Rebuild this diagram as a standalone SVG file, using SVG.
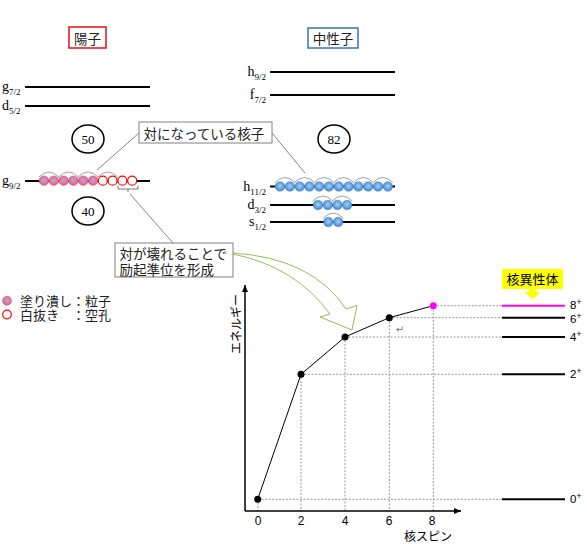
<svg xmlns="http://www.w3.org/2000/svg" width="587" height="544" viewBox="0 0 587 544">
<style>
.lv{stroke:#000;stroke-width:1.8}
.serif{font-family:"Liberation Serif","Noto Sans CJK JP",serif;fill:#000}
.jp{font-family:"Liberation Serif","Noto Sans CJK JP",sans-serif;fill:#222}
.gt{font-family:"Noto Sans CJK JP","DejaVu Sans",sans-serif;fill:#000}
.ls{font-family:"Liberation Sans",Arial,sans-serif;fill:#000}
.pf{fill:url(#pg);stroke:#e8506e;stroke-width:0.5}
.ph{fill:#fff;stroke:#f00;stroke-width:1.2}
.nf{fill:url(#ng);stroke:#4a8fd6;stroke-width:0.5}
.arc{fill:none;stroke:#888;stroke-width:0.8}
.lead{stroke:#666;stroke-width:0.8;fill:none}
.box{fill:#fff;stroke:#808080;stroke-width:1}
.dot{stroke:#999;stroke-width:1;stroke-dasharray:2,1.5;fill:none}
.pt{fill:#000}
.rl{stroke:#000;stroke-width:2}
</style>
<defs>
<radialGradient id="pg" cx="50%" cy="45%" r="55%"><stop offset="0" stop-color="#a8a8e0"/><stop offset="0.35" stop-color="#c492c4"/><stop offset="1" stop-color="#f2566f"/></radialGradient>
<radialGradient id="ng" cx="50%" cy="45%" r="55%"><stop offset="0" stop-color="#a8d0f4"/><stop offset="1" stop-color="#3c84d0"/></radialGradient>
<marker id="ah" markerWidth="8" markerHeight="8" refX="7" refY="4" orient="auto" markerUnits="userSpaceOnUse"><path d="M0,1 L7,4 L0,7 Z" fill="#000"/></marker>
</defs>

<g id="proton">
<rect x="69" y="27" width="37" height="21" fill="#fff" stroke="#e01010" stroke-width="1.5"/>
<text x="87.5" y="44" font-size="13.5" text-anchor="middle" class="jp">陽子</text>
<line class="lv" x1="25" y1="87" x2="150" y2="87"/>
<line class="lv" x1="25" y1="106" x2="150" y2="106"/>
<line class="lv" x1="25" y1="181" x2="150" y2="181"/>
<text x="2" y="91" font-size="14" class="serif">g<tspan dy="4" font-size="9">7/2</tspan></text>
<text x="2" y="110" font-size="14" class="serif">d<tspan dy="4" font-size="9">5/2</tspan></text>
<text x="2" y="185" font-size="14" class="serif">g<tspan dy="4" font-size="9">9/2</tspan></text>
<ellipse cx="88" cy="139" rx="16" ry="14" fill="#fff" stroke="#000" stroke-width="1.5"/>
<text x="88" y="143.5" font-size="13" text-anchor="middle" class="serif">50</text>
<ellipse cx="88" cy="211" rx="16" ry="14" fill="#fff" stroke="#000" stroke-width="1.5"/>
<text x="88" y="215.5" font-size="13" text-anchor="middle" class="serif">40</text>
<path class="arc" d="M39,177 Q48.9,167 58.8,177 M58.6,177 Q68.5,167 78.4,177 M78.2,177 Q88.1,167 98,177 M97.8,177 Q107.7,167 117.6,177"/>
<circle class="pf" cx="44" cy="180.7" r="4.8"/>
<circle class="pf" cx="53.8" cy="180.7" r="4.8"/>
<circle class="pf" cx="63.6" cy="180.7" r="4.8"/>
<circle class="pf" cx="73.4" cy="180.7" r="4.8"/>
<circle class="pf" cx="83.2" cy="180.7" r="4.8"/>
<circle class="pf" cx="93" cy="180.7" r="4.8"/>
<circle class="ph" cx="102.8" cy="180.7" r="4.5"/>
<circle class="ph" cx="112.6" cy="180.7" r="4.5"/>
<circle class="ph" cx="122.4" cy="180.7" r="4.5"/>
<circle class="ph" cx="132.2" cy="180.7" r="4.5"/>
<path d="M118,186 V189 H138 V186 M128,189 V192" fill="none" stroke="#555" stroke-width="0.8"/>
</g>

<g id="neutron">
<rect x="308" y="28" width="50" height="20" fill="#fff" stroke="#2e78c0" stroke-width="1.5"/>
<text x="333" y="44" font-size="13.5" text-anchor="middle" class="jp">中性子</text>
<line class="lv" x1="270" y1="72" x2="395" y2="72"/>
<line class="lv" x1="270" y1="95" x2="395" y2="95"/>
<line class="lv" x1="270" y1="186.5" x2="395" y2="186.5"/>
<line class="lv" x1="270" y1="205" x2="395" y2="205"/>
<line class="lv" x1="270" y1="222" x2="395" y2="222"/>
<text x="266" y="76" font-size="14" text-anchor="end" class="serif">h<tspan dy="4" font-size="9">9/2</tspan></text>
<text x="266" y="99" font-size="14" text-anchor="end" class="serif">f<tspan dy="4" font-size="9">7/2</tspan></text>
<text x="266" y="190.5" font-size="14" text-anchor="end" class="serif">h<tspan dy="4" font-size="9">11/2</tspan></text>
<text x="266" y="209" font-size="14" text-anchor="end" class="serif">d<tspan dy="4" font-size="9">3/2</tspan></text>
<text x="266" y="226" font-size="14" text-anchor="end" class="serif">s<tspan dy="4" font-size="9">1/2</tspan></text>
<ellipse cx="334" cy="139" rx="16" ry="14" fill="#fff" stroke="#000" stroke-width="1.5"/>
<text x="334" y="143.5" font-size="13" text-anchor="middle" class="serif">82</text>
<path class="arc" d="M274.9,182.5 Q284.9,172.5 294.9,182.5 M294.5,182.5 Q304.5,172.5 314.5,182.5 M314.1,182.5 Q324.1,172.5 334.1,182.5 M333.7,182.5 Q343.7,172.5 353.7,182.5 M353.3,182.5 Q363.3,172.5 373.3,182.5 M372.9,182.5 Q382.9,172.5 392.9,182.5"/>
<path class="arc" d="M312.85,201 Q322.85,191 332.85,201 M332.25,201 Q342.25,191 352.25,201"/>
<path class="arc" d="M323.2,218 Q333.2,208 343.2,218"/>
<circle class="nf" cx="280" cy="186.5" r="4.8"/>
<circle class="nf" cx="289.8" cy="186.5" r="4.8"/>
<circle class="nf" cx="299.6" cy="186.5" r="4.8"/>
<circle class="nf" cx="309.4" cy="186.5" r="4.8"/>
<circle class="nf" cx="319.2" cy="186.5" r="4.8"/>
<circle class="nf" cx="329" cy="186.5" r="4.8"/>
<circle class="nf" cx="338.8" cy="186.5" r="4.8"/>
<circle class="nf" cx="348.6" cy="186.5" r="4.8"/>
<circle class="nf" cx="358.4" cy="186.5" r="4.8"/>
<circle class="nf" cx="368.2" cy="186.5" r="4.8"/>
<circle class="nf" cx="378" cy="186.5" r="4.8"/>
<circle class="nf" cx="387.8" cy="186.5" r="4.8"/>
<circle class="nf" cx="318" cy="205" r="4.8"/>
<circle class="nf" cx="327.7" cy="205" r="4.8"/>
<circle class="nf" cx="337.4" cy="205" r="4.8"/>
<circle class="nf" cx="347.1" cy="205" r="4.8"/>
<circle class="nf" cx="328.3" cy="222" r="4.8"/>
<circle class="nf" cx="338.1" cy="222" r="4.8"/>
</g>

<g id="connectors">
<line class="lead" x1="139" y1="133" x2="97" y2="170"/>
<line class="lead" x1="272" y1="133" x2="305" y2="173"/>
<line class="lead" x1="173" y1="243" x2="130" y2="194"/>
<path d="M233,253 Q312,258 346,309 L357,305.5 L352,330 L320,317 L330,314 Q296,267 233,254 Z" fill="#fff" stroke="#9bbb59" stroke-width="1"/>
</g>

<g id="label-paired">
<rect class="box" x="139" y="122" width="133" height="21"/>
<text x="143.5" y="138.5" font-size="13.5" class="jp">対になっている核子</text>
</g>

<g id="label-broken">
<rect class="box" x="115" y="243" width="118" height="34"/>
<text x="119.5" y="259" font-size="13.5" class="jp">対が壊れることで</text>
<text x="119.5" y="275" font-size="13.5" class="jp">励起準位を形成</text>
</g>

<g id="legend">
<circle class="pf" cx="7" cy="300.7" r="4.5"/>
<text x="20" y="306" font-size="13" class="jp">塗り潰し：粒子</text>
<circle class="ph" cx="7" cy="314.5" r="4.3"/>
<text x="20" y="320" font-size="13" class="jp">白抜き　：空孔</text>
</g>

<g id="graph">
<path class="dot" d="M258,499.3 H502 M301,374.3 H502 M345,337 H502 M389.3,317.7 H502 M433.3,305.7 H502 M258,499 V511 M301,374 V511 M345,337 V511 M389.3,318 V511 M433.3,306 V511"/>
<line x1="245" y1="511" x2="245" y2="285" stroke="#000" stroke-width="1.5" marker-end="url(#ah)"/>
<line x1="245" y1="511" x2="461" y2="511" stroke="#000" stroke-width="1.5" marker-end="url(#ah)"/>
<polyline points="257.7,499.3 301,374.3 345,337 389.3,317.7 433.3,305.7" fill="none" stroke="#000" stroke-width="1"/>
<circle class="pt" cx="257.7" cy="499.3" r="3.5"/>
<circle class="pt" cx="301" cy="374.3" r="3.5"/>
<circle class="pt" cx="345" cy="337" r="3.5"/>
<circle class="pt" cx="389.3" cy="317.7" r="3.5"/>
<circle cx="433.3" cy="305.7" r="3.5" fill="#ff00ff"/>
<g class="ls" font-size="12" text-anchor="middle">
<text x="258" y="525">0</text>
<text x="301" y="525">2</text>
<text x="345" y="525">4</text>
<text x="389" y="525">6</text>
<text x="432" y="525">8</text>
</g>
<text x="428" y="541" font-size="12" text-anchor="middle" class="gt">核スピン</text>
<text transform="translate(241,324) rotate(-90)" font-size="12" text-anchor="middle" class="gt">エネルギー</text>
<text x="400" y="333" font-size="10" fill="#777" font-family="DejaVu Sans,sans-serif" text-anchor="middle">↵</text>
</g>

<g id="levels">
<line x1="502" y1="305.7" x2="565" y2="305.7" stroke="#ff00ff" stroke-width="2"/>
<line class="rl" x1="502" y1="317.7" x2="565" y2="317.7"/>
<line class="rl" x1="502" y1="337" x2="565" y2="337"/>
<line class="rl" x1="502" y1="374.3" x2="565" y2="374.3"/>
<line class="rl" x1="502" y1="499.3" x2="565" y2="499.3"/>
<g class="ls" font-size="11.5">
<text x="570" y="309">8<tspan dy="-4" font-size="8.5">+</tspan></text>
<text x="570" y="322.5">6<tspan dy="-4" font-size="8.5">+</tspan></text>
<text x="570" y="341">4<tspan dy="-4" font-size="8.5">+</tspan></text>
<text x="570" y="378">2<tspan dy="-4" font-size="8.5">+</tspan></text>
<text x="570" y="503">0<tspan dy="-4" font-size="8.5">+</tspan></text>
</g>
</g>

<g id="isomer">
<rect x="502" y="269" width="61" height="20" fill="#ffff00"/>
<text x="532.5" y="284" font-size="13" text-anchor="middle" class="gt">核異性体</text>
<path d="M529,289 H536 V292 H540.5 L532.5,299.5 L524.5,292 H529 Z" fill="#ffff00"/>
</g>
</svg>
